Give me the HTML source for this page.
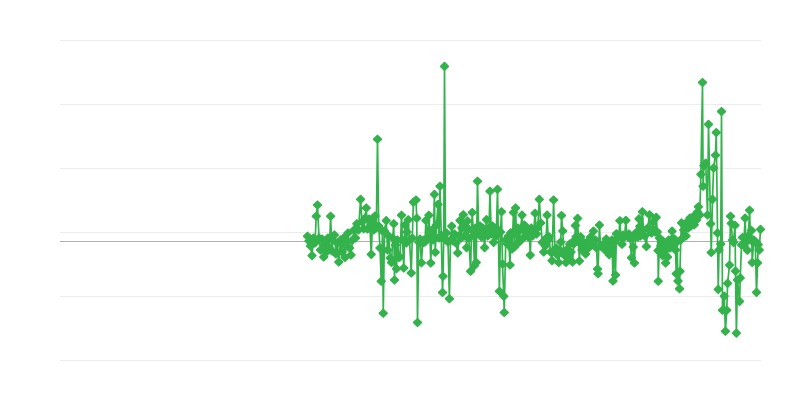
<!DOCTYPE html>
<html><head><meta charset="utf-8"><title>Chart</title>
<style>
html,body{margin:0;padding:0;background:#fff;font-family:"Liberation Sans",sans-serif;}
svg{display:block}
</style></head><body>
<svg width="800" height="400" viewBox="0 0 800 400">
<rect width="800" height="400" fill="#ffffff"/>
<g fill="none"><path d="M60 40.5H761" stroke="#ececec" stroke-width="1"/><path d="M60 104.5H761" stroke="#ececec" stroke-width="1"/><path d="M60 168.5H761" stroke="#ececec" stroke-width="1"/><path d="M60 232.5H761" stroke="#ececec" stroke-width="1"/><path d="M60 296.5H761" stroke="#ececec" stroke-width="1"/><path d="M60 360.5H761" stroke="#ececec" stroke-width="1"/>
<path d="M60 241.5H761" stroke="#b0b0b0" stroke-width="1"/></g>
<path d="M307.5 236.25 L309 241 L310.5 246 L312 255.6 L313.5 238 L315 243 L316.25 216.25 L317.5 205 L319 238 L320.5 250 L322 239 L323.75 257 L325 244 L326.5 252 L328 238 L329.5 248 L330.6 216.25 L332 251 L333 240 L334.4 235 L336 254 L337.5 243 L338.75 262 L340.5 240 L342 252 L343.5 238 L345 257.5 L346.5 243 L348 233 L349.5 248 L351 255 L352.5 240 L354 230 L355.5 238 L356.9 223.75 L358.5 230 L360.6 199.4 L362 222 L363.75 228.75 L365 218 L366.25 208 L367.5 229 L369 219 L370 228 L371.25 254.4 L372.5 222 L373.75 230 L375 216 L376.3 228 L377.5 139.25 L378.7 226 L380 248 L381.25 281.25 L382.5 231 L383.25 313.25 L384.5 231 L386.25 220.6 L387.5 250 L388.75 236 L390.25 258 L391.5 262.5 L392.75 238 L393.75 223.75 L394.5 280 L395.5 245 L396.5 268.75 L397.5 240 L398.75 257.5 L400 257 L401.5 215.25 L402.5 240 L403.75 268 L405 225 L406.25 243 L407 232 L408.25 219.75 L409.5 240 L411.25 273 L412.3 238 L413.4 202.1 L416 200 L416.75 218.25 L417.5 322.5 L418.75 242 L420 239 L421.4 262.75 L422.75 243 L424 240 L425 242 L425.9 220.5 L427.5 238 L428.9 215.25 L430 236 L430.75 263 L432 230 L433.25 240 L434.4 194.4 L435.25 252.25 L436.5 225 L438 204.4 L439 238 L440 186.25 L441.25 235 L442.5 292.5 L443 276.25 L443.75 238 L444.5 66.4 L445.5 240 L446.5 233 L448 242 L449.4 298.75 L450.5 240 L451.75 226.1 L453 241 L454.5 234 L456 243 L457.75 253 L459 236 L460 220.5 L461.25 238 L462 228 L463.25 214.75 L464.5 236 L465.5 226 L466.6 247.6 L467.5 221 L468.75 238 L470.6 271.25 L471.5 230 L472.25 212.5 L473.5 236 L474.4 265.6 L475.25 228 L476.25 262.5 L477.5 181.25 L478.75 234 L480 226 L481.5 237 L483 228 L484.6 247.6 L485.5 232 L486.5 219.6 L487.75 236 L489 228 L490 191.25 L491.25 234 L492.5 226 L493.6 242.4 L495 228 L496.25 236 L497.5 189.4 L498.25 230 L499.4 291.25 L500.5 232 L501.5 211.75 L502.5 264 L503.75 296.25 L504.25 312.5 L505.75 240 L507.25 244 L508.5 236 L510 265 L510.75 232.75 L512 249 L513.5 212.5 L514.5 247 L515.6 208 L516.75 244 L518 228 L519.25 242 L520.5 230 L522 215.1 L523.25 238 L524.4 225 L525.75 236 L527 229 L528.25 237 L529.25 231 L530.25 255.1 L531.25 228 L532.5 236 L533.75 230 L535.1 213.25 L536.5 234 L537.75 228 L539.3 199.4 L540.75 223 L542.25 242.4 L543.75 252 L545.25 246 L546.25 238 L547.1 215.1 L548.25 240 L549 236.75 L550.5 252 L552 260.6 L553.6 200 L555 252 L556.25 248 L557.5 255 L558.75 262.5 L560 250 L560.75 242 L561.5 215.5 L562.75 231 L564 255 L566 262.5 L567 249.5 L568.5 257 L569.75 244 L571 252 L572.5 262 L573.75 244 L574.75 240 L575.4 225.5 L576.1 236.75 L577.6 218.4 L578.5 242 L579.4 261 L580.6 236.75 L582 250 L583.25 242 L584.5 248 L585.6 254 L587 242 L588.5 248 L589.5 241 L590.4 237.1 L591.5 244 L593.4 231.1 L594.5 245 L595.5 240 L596.5 248 L597.5 269 L598 273.75 L599.4 225.1 L600.5 246 L602.5 246.5 L603.75 243.75 L605 250 L606.25 239 L607.5 248 L608.5 242 L609.25 254.75 L610.25 244 L611 248 L612 240 L613 281 L614.25 242 L615.5 275 L616.4 233.75 L617.5 238 L618.75 236 L619.9 220.75 L621 237 L622 244.25 L623 235 L624.5 237 L625.9 220.4 L627 236 L628 237 L629 234 L630 238 L631.5 257.75 L632.5 238 L633.25 247 L634.4 263 L635.5 237 L636.75 232 L638 237 L639 218.9 L639.75 226.4 L640.5 236 L641.5 228 L642.4 211.75 L643.5 230 L644.75 236 L646.4 246.5 L647.75 228 L649.5 214.75 L650.5 230 L651.5 233 L652.75 222 L654 230 L655 232 L656.25 217.4 L657.25 232 L658 250.6 L658.25 281.25 L659.5 238 L660.75 246 L662.5 240.6 L662.6 255.6 L663.75 242 L665 250 L665.6 263 L666.75 244 L667.5 257 L668.75 240 L670 248 L671 240 L672.1 231.1 L673.25 245 L674.5 239 L675.5 250 L676.25 273.75 L677 242 L678 281 L679.5 288.75 L680 271.25 L680.75 240 L681.5 222.9 L682.5 238 L683.75 230 L685 226 L686 236 L687 222 L688.25 228 L690 218 L691 226 L692.5 219 L694.25 224.75 L695 215 L696.5 220 L697.5 212 L698.4 206.75 L699.75 215 L700.9 174.4 L702.5 82.5 L703.1 186.25 L703.9 165.75 L705.75 163.1 L707.5 215 L708.5 124.4 L710.6 223.75 L711.25 252.5 L712.5 199.4 L713.6 168 L715.5 155.25 L716.25 132.5 L717.5 233 L718.25 289.4 L719 250 L720.75 244 L721.5 111.5 L722.5 310.25 L724.25 296.1 L725.4 331.25 L726.75 310.25 L727.6 283.4 L729.5 265.1 L730.5 216.25 L731.25 223.4 L732.5 240 L733.5 242.4 L735 225.25 L735.5 271.1 L736.4 333.1 L737.5 280 L739.6 301.4 L740.25 277.9 L741.5 245 L742.5 237.5 L743.75 245 L745.1 218.1 L746 242 L747.4 250.25 L748.25 236 L749.6 210.25 L750.5 240 L751.5 230.5 L752.25 262.5 L753.75 240 L755.25 241.25 L756.5 292.4 L757.6 262.9 L758.25 244.6 L759.25 250 L760.5 229.4" fill="none" stroke="#34b24c" stroke-width="1.7" stroke-linejoin="round" stroke-linecap="round"/>
<path d="M307.5 232.55L311.2 236.25 307.5 239.95 303.8 236.25ZM309 237.3L312.7 241 309 244.7 305.3 241ZM310.5 242.3L314.2 246 310.5 249.7 306.8 246ZM312 251.9L315.7 255.6 312 259.3 308.3 255.6ZM313.5 234.3L317.2 238 313.5 241.7 309.8 238ZM315 239.3L318.7 243 315 246.7 311.3 243ZM316.25 212.55L319.95 216.25 316.25 219.95 312.55 216.25ZM317.5 201.3L321.2 205 317.5 208.7 313.8 205ZM319 234.3L322.7 238 319 241.7 315.3 238ZM320.5 246.3L324.2 250 320.5 253.7 316.8 250ZM322 235.3L325.7 239 322 242.7 318.3 239ZM323.75 253.3L327.45 257 323.75 260.7 320.05 257ZM325 240.3L328.7 244 325 247.7 321.3 244ZM326.5 248.3L330.2 252 326.5 255.7 322.8 252ZM328 234.3L331.7 238 328 241.7 324.3 238ZM329.5 244.3L333.2 248 329.5 251.7 325.8 248ZM330.6 212.55L334.3 216.25 330.6 219.95 326.9 216.25ZM332 247.3L335.7 251 332 254.7 328.3 251ZM333 236.3L336.7 240 333 243.7 329.3 240ZM334.4 231.3L338.1 235 334.4 238.7 330.7 235ZM336 250.3L339.7 254 336 257.7 332.3 254ZM337.5 239.3L341.2 243 337.5 246.7 333.8 243ZM338.75 258.3L342.45 262 338.75 265.7 335.05 262ZM340.5 236.3L344.2 240 340.5 243.7 336.8 240ZM342 248.3L345.7 252 342 255.7 338.3 252ZM343.5 234.3L347.2 238 343.5 241.7 339.8 238ZM345 253.8L348.7 257.5 345 261.2 341.3 257.5ZM346.5 239.3L350.2 243 346.5 246.7 342.8 243ZM348 229.3L351.7 233 348 236.7 344.3 233ZM349.5 244.3L353.2 248 349.5 251.7 345.8 248ZM351 251.3L354.7 255 351 258.7 347.3 255ZM352.5 236.3L356.2 240 352.5 243.7 348.8 240ZM354 226.3L357.7 230 354 233.7 350.3 230ZM355.5 234.3L359.2 238 355.5 241.7 351.8 238ZM356.9 220.05L360.6 223.75 356.9 227.45 353.2 223.75ZM358.5 226.3L362.2 230 358.5 233.7 354.8 230ZM360.6 195.7L364.3 199.4 360.6 203.1 356.9 199.4ZM362 218.3L365.7 222 362 225.7 358.3 222ZM363.75 225.05L367.45 228.75 363.75 232.45 360.05 228.75ZM365 214.3L368.7 218 365 221.7 361.3 218ZM366.25 204.3L369.95 208 366.25 211.7 362.55 208ZM367.5 225.3L371.2 229 367.5 232.7 363.8 229ZM369 215.3L372.7 219 369 222.7 365.3 219ZM370 224.3L373.7 228 370 231.7 366.3 228ZM371.25 250.7L374.95 254.4 371.25 258.1 367.55 254.4ZM372.5 218.3L376.2 222 372.5 225.7 368.8 222ZM373.75 226.3L377.45 230 373.75 233.7 370.05 230ZM375 212.3L378.7 216 375 219.7 371.3 216ZM376.3 224.3L380 228 376.3 231.7 372.6 228ZM377.5 135.55L381.2 139.25 377.5 142.95 373.8 139.25ZM378.7 222.3L382.4 226 378.7 229.7 375 226ZM380 244.3L383.7 248 380 251.7 376.3 248ZM381.25 277.55L384.95 281.25 381.25 284.95 377.55 281.25ZM382.5 227.3L386.2 231 382.5 234.7 378.8 231ZM383.25 309.55L386.95 313.25 383.25 316.95 379.55 313.25ZM384.5 227.3L388.2 231 384.5 234.7 380.8 231ZM386.25 216.9L389.95 220.6 386.25 224.3 382.55 220.6ZM387.5 246.3L391.2 250 387.5 253.7 383.8 250ZM388.75 232.3L392.45 236 388.75 239.7 385.05 236ZM390.25 254.3L393.95 258 390.25 261.7 386.55 258ZM391.5 258.8L395.2 262.5 391.5 266.2 387.8 262.5ZM392.75 234.3L396.45 238 392.75 241.7 389.05 238ZM393.75 220.05L397.45 223.75 393.75 227.45 390.05 223.75ZM394.5 276.3L398.2 280 394.5 283.7 390.8 280ZM395.5 241.3L399.2 245 395.5 248.7 391.8 245ZM396.5 265.05L400.2 268.75 396.5 272.45 392.8 268.75ZM397.5 236.3L401.2 240 397.5 243.7 393.8 240ZM398.75 253.8L402.45 257.5 398.75 261.2 395.05 257.5ZM400 253.3L403.7 257 400 260.7 396.3 257ZM401.5 211.55L405.2 215.25 401.5 218.95 397.8 215.25ZM402.5 236.3L406.2 240 402.5 243.7 398.8 240ZM403.75 264.3L407.45 268 403.75 271.7 400.05 268ZM405 221.3L408.7 225 405 228.7 401.3 225ZM406.25 239.3L409.95 243 406.25 246.7 402.55 243ZM407 228.3L410.7 232 407 235.7 403.3 232ZM408.25 216.05L411.95 219.75 408.25 223.45 404.55 219.75ZM409.5 236.3L413.2 240 409.5 243.7 405.8 240ZM411.25 269.3L414.95 273 411.25 276.7 407.55 273ZM412.3 234.3L416 238 412.3 241.7 408.6 238ZM413.4 198.4L417.1 202.1 413.4 205.8 409.7 202.1ZM416 196.3L419.7 200 416 203.7 412.3 200ZM416.75 214.55L420.45 218.25 416.75 221.95 413.05 218.25ZM417.5 318.8L421.2 322.5 417.5 326.2 413.8 322.5ZM418.75 238.3L422.45 242 418.75 245.7 415.05 242ZM420 235.3L423.7 239 420 242.7 416.3 239ZM421.4 259.05L425.1 262.75 421.4 266.45 417.7 262.75ZM422.75 239.3L426.45 243 422.75 246.7 419.05 243ZM424 236.3L427.7 240 424 243.7 420.3 240ZM425 238.3L428.7 242 425 245.7 421.3 242ZM425.9 216.8L429.6 220.5 425.9 224.2 422.2 220.5ZM427.5 234.3L431.2 238 427.5 241.7 423.8 238ZM428.9 211.55L432.6 215.25 428.9 218.95 425.2 215.25ZM430 232.3L433.7 236 430 239.7 426.3 236ZM430.75 259.3L434.45 263 430.75 266.7 427.05 263ZM432 226.3L435.7 230 432 233.7 428.3 230ZM433.25 236.3L436.95 240 433.25 243.7 429.55 240ZM434.4 190.7L438.1 194.4 434.4 198.1 430.7 194.4ZM435.25 248.55L438.95 252.25 435.25 255.95 431.55 252.25ZM436.5 221.3L440.2 225 436.5 228.7 432.8 225ZM438 200.7L441.7 204.4 438 208.1 434.3 204.4ZM439 234.3L442.7 238 439 241.7 435.3 238ZM440 182.55L443.7 186.25 440 189.95 436.3 186.25ZM441.25 231.3L444.95 235 441.25 238.7 437.55 235ZM442.5 288.8L446.2 292.5 442.5 296.2 438.8 292.5ZM443 272.55L446.7 276.25 443 279.95 439.3 276.25ZM443.75 234.3L447.45 238 443.75 241.7 440.05 238ZM444.5 62.7L448.2 66.4 444.5 70.1 440.8 66.4ZM445.5 236.3L449.2 240 445.5 243.7 441.8 240ZM446.5 229.3L450.2 233 446.5 236.7 442.8 233ZM448 238.3L451.7 242 448 245.7 444.3 242ZM449.4 295.05L453.1 298.75 449.4 302.45 445.7 298.75ZM450.5 236.3L454.2 240 450.5 243.7 446.8 240ZM451.75 222.4L455.45 226.1 451.75 229.8 448.05 226.1ZM453 237.3L456.7 241 453 244.7 449.3 241ZM454.5 230.3L458.2 234 454.5 237.7 450.8 234ZM456 239.3L459.7 243 456 246.7 452.3 243ZM457.75 249.3L461.45 253 457.75 256.7 454.05 253ZM459 232.3L462.7 236 459 239.7 455.3 236ZM460 216.8L463.7 220.5 460 224.2 456.3 220.5ZM461.25 234.3L464.95 238 461.25 241.7 457.55 238ZM462 224.3L465.7 228 462 231.7 458.3 228ZM463.25 211.05L466.95 214.75 463.25 218.45 459.55 214.75ZM464.5 232.3L468.2 236 464.5 239.7 460.8 236ZM465.5 222.3L469.2 226 465.5 229.7 461.8 226ZM466.6 243.9L470.3 247.6 466.6 251.3 462.9 247.6ZM467.5 217.3L471.2 221 467.5 224.7 463.8 221ZM468.75 234.3L472.45 238 468.75 241.7 465.05 238ZM470.6 267.55L474.3 271.25 470.6 274.95 466.9 271.25ZM471.5 226.3L475.2 230 471.5 233.7 467.8 230ZM472.25 208.8L475.95 212.5 472.25 216.2 468.55 212.5ZM473.5 232.3L477.2 236 473.5 239.7 469.8 236ZM474.4 261.9L478.1 265.6 474.4 269.3 470.7 265.6ZM475.25 224.3L478.95 228 475.25 231.7 471.55 228ZM476.25 258.8L479.95 262.5 476.25 266.2 472.55 262.5ZM477.5 177.55L481.2 181.25 477.5 184.95 473.8 181.25ZM478.75 230.3L482.45 234 478.75 237.7 475.05 234ZM480 222.3L483.7 226 480 229.7 476.3 226ZM481.5 233.3L485.2 237 481.5 240.7 477.8 237ZM483 224.3L486.7 228 483 231.7 479.3 228ZM484.6 243.9L488.3 247.6 484.6 251.3 480.9 247.6ZM485.5 228.3L489.2 232 485.5 235.7 481.8 232ZM486.5 215.9L490.2 219.6 486.5 223.3 482.8 219.6ZM487.75 232.3L491.45 236 487.75 239.7 484.05 236ZM489 224.3L492.7 228 489 231.7 485.3 228ZM490 187.55L493.7 191.25 490 194.95 486.3 191.25ZM491.25 230.3L494.95 234 491.25 237.7 487.55 234ZM492.5 222.3L496.2 226 492.5 229.7 488.8 226ZM493.6 238.7L497.3 242.4 493.6 246.1 489.9 242.4ZM495 224.3L498.7 228 495 231.7 491.3 228ZM496.25 232.3L499.95 236 496.25 239.7 492.55 236ZM497.5 185.7L501.2 189.4 497.5 193.1 493.8 189.4ZM498.25 226.3L501.95 230 498.25 233.7 494.55 230ZM499.4 287.55L503.1 291.25 499.4 294.95 495.7 291.25ZM500.5 228.3L504.2 232 500.5 235.7 496.8 232ZM501.5 208.05L505.2 211.75 501.5 215.45 497.8 211.75ZM502.5 260.3L506.2 264 502.5 267.7 498.8 264ZM503.75 292.55L507.45 296.25 503.75 299.95 500.05 296.25ZM504.25 308.8L507.95 312.5 504.25 316.2 500.55 312.5ZM505.75 236.3L509.45 240 505.75 243.7 502.05 240ZM507.25 240.3L510.95 244 507.25 247.7 503.55 244ZM508.5 232.3L512.2 236 508.5 239.7 504.8 236ZM510 261.3L513.7 265 510 268.7 506.3 265ZM510.75 229.05L514.45 232.75 510.75 236.45 507.05 232.75ZM512 245.3L515.7 249 512 252.7 508.3 249ZM513.5 208.8L517.2 212.5 513.5 216.2 509.8 212.5ZM514.5 243.3L518.2 247 514.5 250.7 510.8 247ZM515.6 204.3L519.3 208 515.6 211.7 511.9 208ZM516.75 240.3L520.45 244 516.75 247.7 513.05 244ZM518 224.3L521.7 228 518 231.7 514.3 228ZM519.25 238.3L522.95 242 519.25 245.7 515.55 242ZM520.5 226.3L524.2 230 520.5 233.7 516.8 230ZM522 211.4L525.7 215.1 522 218.8 518.3 215.1ZM523.25 234.3L526.95 238 523.25 241.7 519.55 238ZM524.4 221.3L528.1 225 524.4 228.7 520.7 225ZM525.75 232.3L529.45 236 525.75 239.7 522.05 236ZM527 225.3L530.7 229 527 232.7 523.3 229ZM528.25 233.3L531.95 237 528.25 240.7 524.55 237ZM529.25 227.3L532.95 231 529.25 234.7 525.55 231ZM530.25 251.4L533.95 255.1 530.25 258.8 526.55 255.1ZM531.25 224.3L534.95 228 531.25 231.7 527.55 228ZM532.5 232.3L536.2 236 532.5 239.7 528.8 236ZM533.75 226.3L537.45 230 533.75 233.7 530.05 230ZM535.1 209.55L538.8 213.25 535.1 216.95 531.4 213.25ZM536.5 230.3L540.2 234 536.5 237.7 532.8 234ZM537.75 224.3L541.45 228 537.75 231.7 534.05 228ZM539.3 195.7L543 199.4 539.3 203.1 535.6 199.4ZM540.75 219.3L544.45 223 540.75 226.7 537.05 223ZM542.25 238.7L545.95 242.4 542.25 246.1 538.55 242.4ZM543.75 248.3L547.45 252 543.75 255.7 540.05 252ZM545.25 242.3L548.95 246 545.25 249.7 541.55 246ZM546.25 234.3L549.95 238 546.25 241.7 542.55 238ZM547.1 211.4L550.8 215.1 547.1 218.8 543.4 215.1ZM548.25 236.3L551.95 240 548.25 243.7 544.55 240ZM549 233.05L552.7 236.75 549 240.45 545.3 236.75ZM550.5 248.3L554.2 252 550.5 255.7 546.8 252ZM552 256.9L555.7 260.6 552 264.3 548.3 260.6ZM553.6 196.3L557.3 200 553.6 203.7 549.9 200ZM555 248.3L558.7 252 555 255.7 551.3 252ZM556.25 244.3L559.95 248 556.25 251.7 552.55 248ZM557.5 251.3L561.2 255 557.5 258.7 553.8 255ZM558.75 258.8L562.45 262.5 558.75 266.2 555.05 262.5ZM560 246.3L563.7 250 560 253.7 556.3 250ZM560.75 238.3L564.45 242 560.75 245.7 557.05 242ZM561.5 211.8L565.2 215.5 561.5 219.2 557.8 215.5ZM562.75 227.3L566.45 231 562.75 234.7 559.05 231ZM564 251.3L567.7 255 564 258.7 560.3 255ZM566 258.8L569.7 262.5 566 266.2 562.3 262.5ZM567 245.8L570.7 249.5 567 253.2 563.3 249.5ZM568.5 253.3L572.2 257 568.5 260.7 564.8 257ZM569.75 240.3L573.45 244 569.75 247.7 566.05 244ZM571 248.3L574.7 252 571 255.7 567.3 252ZM572.5 258.3L576.2 262 572.5 265.7 568.8 262ZM573.75 240.3L577.45 244 573.75 247.7 570.05 244ZM574.75 236.3L578.45 240 574.75 243.7 571.05 240ZM575.4 221.8L579.1 225.5 575.4 229.2 571.7 225.5ZM576.1 233.05L579.8 236.75 576.1 240.45 572.4 236.75ZM577.6 214.7L581.3 218.4 577.6 222.1 573.9 218.4ZM578.5 238.3L582.2 242 578.5 245.7 574.8 242ZM579.4 257.3L583.1 261 579.4 264.7 575.7 261ZM580.6 233.05L584.3 236.75 580.6 240.45 576.9 236.75ZM582 246.3L585.7 250 582 253.7 578.3 250ZM583.25 238.3L586.95 242 583.25 245.7 579.55 242ZM584.5 244.3L588.2 248 584.5 251.7 580.8 248ZM585.6 250.3L589.3 254 585.6 257.7 581.9 254ZM587 238.3L590.7 242 587 245.7 583.3 242ZM588.5 244.3L592.2 248 588.5 251.7 584.8 248ZM589.5 237.3L593.2 241 589.5 244.7 585.8 241ZM590.4 233.4L594.1 237.1 590.4 240.8 586.7 237.1ZM591.5 240.3L595.2 244 591.5 247.7 587.8 244ZM593.4 227.4L597.1 231.1 593.4 234.8 589.7 231.1ZM594.5 241.3L598.2 245 594.5 248.7 590.8 245ZM595.5 236.3L599.2 240 595.5 243.7 591.8 240ZM596.5 244.3L600.2 248 596.5 251.7 592.8 248ZM597.5 265.3L601.2 269 597.5 272.7 593.8 269ZM598 270.05L601.7 273.75 598 277.45 594.3 273.75ZM599.4 221.4L603.1 225.1 599.4 228.8 595.7 225.1ZM600.5 242.3L604.2 246 600.5 249.7 596.8 246ZM602.5 242.8L606.2 246.5 602.5 250.2 598.8 246.5ZM603.75 240.05L607.45 243.75 603.75 247.45 600.05 243.75ZM605 246.3L608.7 250 605 253.7 601.3 250ZM606.25 235.3L609.95 239 606.25 242.7 602.55 239ZM607.5 244.3L611.2 248 607.5 251.7 603.8 248ZM608.5 238.3L612.2 242 608.5 245.7 604.8 242ZM609.25 251.05L612.95 254.75 609.25 258.45 605.55 254.75ZM610.25 240.3L613.95 244 610.25 247.7 606.55 244ZM611 244.3L614.7 248 611 251.7 607.3 248ZM612 236.3L615.7 240 612 243.7 608.3 240ZM613 277.3L616.7 281 613 284.7 609.3 281ZM614.25 238.3L617.95 242 614.25 245.7 610.55 242ZM615.5 271.3L619.2 275 615.5 278.7 611.8 275ZM616.4 230.05L620.1 233.75 616.4 237.45 612.7 233.75ZM617.5 234.3L621.2 238 617.5 241.7 613.8 238ZM618.75 232.3L622.45 236 618.75 239.7 615.05 236ZM619.9 217.05L623.6 220.75 619.9 224.45 616.2 220.75ZM621 233.3L624.7 237 621 240.7 617.3 237ZM622 240.55L625.7 244.25 622 247.95 618.3 244.25ZM623 231.3L626.7 235 623 238.7 619.3 235ZM624.5 233.3L628.2 237 624.5 240.7 620.8 237ZM625.9 216.7L629.6 220.4 625.9 224.1 622.2 220.4ZM627 232.3L630.7 236 627 239.7 623.3 236ZM628 233.3L631.7 237 628 240.7 624.3 237ZM629 230.3L632.7 234 629 237.7 625.3 234ZM630 234.3L633.7 238 630 241.7 626.3 238ZM631.5 254.05L635.2 257.75 631.5 261.45 627.8 257.75ZM632.5 234.3L636.2 238 632.5 241.7 628.8 238ZM633.25 243.3L636.95 247 633.25 250.7 629.55 247ZM634.4 259.3L638.1 263 634.4 266.7 630.7 263ZM635.5 233.3L639.2 237 635.5 240.7 631.8 237ZM636.75 228.3L640.45 232 636.75 235.7 633.05 232ZM638 233.3L641.7 237 638 240.7 634.3 237ZM639 215.2L642.7 218.9 639 222.6 635.3 218.9ZM639.75 222.7L643.45 226.4 639.75 230.1 636.05 226.4ZM640.5 232.3L644.2 236 640.5 239.7 636.8 236ZM641.5 224.3L645.2 228 641.5 231.7 637.8 228ZM642.4 208.05L646.1 211.75 642.4 215.45 638.7 211.75ZM643.5 226.3L647.2 230 643.5 233.7 639.8 230ZM644.75 232.3L648.45 236 644.75 239.7 641.05 236ZM646.4 242.8L650.1 246.5 646.4 250.2 642.7 246.5ZM647.75 224.3L651.45 228 647.75 231.7 644.05 228ZM649.5 211.05L653.2 214.75 649.5 218.45 645.8 214.75ZM650.5 226.3L654.2 230 650.5 233.7 646.8 230ZM651.5 229.3L655.2 233 651.5 236.7 647.8 233ZM652.75 218.3L656.45 222 652.75 225.7 649.05 222ZM654 226.3L657.7 230 654 233.7 650.3 230ZM655 228.3L658.7 232 655 235.7 651.3 232ZM656.25 213.7L659.95 217.4 656.25 221.1 652.55 217.4ZM657.25 228.3L660.95 232 657.25 235.7 653.55 232ZM658 246.9L661.7 250.6 658 254.3 654.3 250.6ZM658.25 277.55L661.95 281.25 658.25 284.95 654.55 281.25ZM659.5 234.3L663.2 238 659.5 241.7 655.8 238ZM660.75 242.3L664.45 246 660.75 249.7 657.05 246ZM662.5 236.9L666.2 240.6 662.5 244.3 658.8 240.6ZM662.6 251.9L666.3 255.6 662.6 259.3 658.9 255.6ZM663.75 238.3L667.45 242 663.75 245.7 660.05 242ZM665 246.3L668.7 250 665 253.7 661.3 250ZM665.6 259.3L669.3 263 665.6 266.7 661.9 263ZM666.75 240.3L670.45 244 666.75 247.7 663.05 244ZM667.5 253.3L671.2 257 667.5 260.7 663.8 257ZM668.75 236.3L672.45 240 668.75 243.7 665.05 240ZM670 244.3L673.7 248 670 251.7 666.3 248ZM671 236.3L674.7 240 671 243.7 667.3 240ZM672.1 227.4L675.8 231.1 672.1 234.8 668.4 231.1ZM673.25 241.3L676.95 245 673.25 248.7 669.55 245ZM674.5 235.3L678.2 239 674.5 242.7 670.8 239ZM675.5 246.3L679.2 250 675.5 253.7 671.8 250ZM676.25 270.05L679.95 273.75 676.25 277.45 672.55 273.75ZM677 238.3L680.7 242 677 245.7 673.3 242ZM678 277.3L681.7 281 678 284.7 674.3 281ZM679.5 285.05L683.2 288.75 679.5 292.45 675.8 288.75ZM680 267.55L683.7 271.25 680 274.95 676.3 271.25ZM680.75 236.3L684.45 240 680.75 243.7 677.05 240ZM681.5 219.2L685.2 222.9 681.5 226.6 677.8 222.9ZM682.5 234.3L686.2 238 682.5 241.7 678.8 238ZM683.75 226.3L687.45 230 683.75 233.7 680.05 230ZM685 222.3L688.7 226 685 229.7 681.3 226ZM686 232.3L689.7 236 686 239.7 682.3 236ZM687 218.3L690.7 222 687 225.7 683.3 222ZM688.25 224.3L691.95 228 688.25 231.7 684.55 228ZM690 214.3L693.7 218 690 221.7 686.3 218ZM691 222.3L694.7 226 691 229.7 687.3 226ZM692.5 215.3L696.2 219 692.5 222.7 688.8 219ZM694.25 221.05L697.95 224.75 694.25 228.45 690.55 224.75ZM695 211.3L698.7 215 695 218.7 691.3 215ZM696.5 216.3L700.2 220 696.5 223.7 692.8 220ZM697.5 208.3L701.2 212 697.5 215.7 693.8 212ZM698.4 203.05L702.1 206.75 698.4 210.45 694.7 206.75ZM699.75 211.3L703.45 215 699.75 218.7 696.05 215ZM700.9 170.7L704.6 174.4 700.9 178.1 697.2 174.4ZM702.5 78.8L706.2 82.5 702.5 86.2 698.8 82.5ZM703.1 182.55L706.8 186.25 703.1 189.95 699.4 186.25ZM703.9 162.05L707.6 165.75 703.9 169.45 700.2 165.75ZM705.75 159.4L709.45 163.1 705.75 166.8 702.05 163.1ZM707.5 211.3L711.2 215 707.5 218.7 703.8 215ZM708.5 120.7L712.2 124.4 708.5 128.1 704.8 124.4ZM710.6 220.05L714.3 223.75 710.6 227.45 706.9 223.75ZM711.25 248.8L714.95 252.5 711.25 256.2 707.55 252.5ZM712.5 195.7L716.2 199.4 712.5 203.1 708.8 199.4ZM713.6 164.3L717.3 168 713.6 171.7 709.9 168ZM715.5 151.55L719.2 155.25 715.5 158.95 711.8 155.25ZM716.25 128.8L719.95 132.5 716.25 136.2 712.55 132.5ZM717.5 229.3L721.2 233 717.5 236.7 713.8 233ZM718.25 285.7L721.95 289.4 718.25 293.1 714.55 289.4ZM719 246.3L722.7 250 719 253.7 715.3 250ZM720.75 240.3L724.45 244 720.75 247.7 717.05 244ZM721.5 107.8L725.2 111.5 721.5 115.2 717.8 111.5ZM722.5 306.55L726.2 310.25 722.5 313.95 718.8 310.25ZM724.25 292.4L727.95 296.1 724.25 299.8 720.55 296.1ZM725.4 327.55L729.1 331.25 725.4 334.95 721.7 331.25ZM726.75 306.55L730.45 310.25 726.75 313.95 723.05 310.25ZM727.6 279.7L731.3 283.4 727.6 287.1 723.9 283.4ZM729.5 261.4L733.2 265.1 729.5 268.8 725.8 265.1ZM730.5 212.55L734.2 216.25 730.5 219.95 726.8 216.25ZM731.25 219.7L734.95 223.4 731.25 227.1 727.55 223.4ZM732.5 236.3L736.2 240 732.5 243.7 728.8 240ZM733.5 238.7L737.2 242.4 733.5 246.1 729.8 242.4ZM735 221.55L738.7 225.25 735 228.95 731.3 225.25ZM735.5 267.4L739.2 271.1 735.5 274.8 731.8 271.1ZM736.4 329.4L740.1 333.1 736.4 336.8 732.7 333.1ZM737.5 276.3L741.2 280 737.5 283.7 733.8 280ZM739.6 297.7L743.3 301.4 739.6 305.1 735.9 301.4ZM740.25 274.2L743.95 277.9 740.25 281.6 736.55 277.9ZM741.5 241.3L745.2 245 741.5 248.7 737.8 245ZM742.5 233.8L746.2 237.5 742.5 241.2 738.8 237.5ZM743.75 241.3L747.45 245 743.75 248.7 740.05 245ZM745.1 214.4L748.8 218.1 745.1 221.8 741.4 218.1ZM746 238.3L749.7 242 746 245.7 742.3 242ZM747.4 246.55L751.1 250.25 747.4 253.95 743.7 250.25ZM748.25 232.3L751.95 236 748.25 239.7 744.55 236ZM749.6 206.55L753.3 210.25 749.6 213.95 745.9 210.25ZM750.5 236.3L754.2 240 750.5 243.7 746.8 240ZM751.5 226.8L755.2 230.5 751.5 234.2 747.8 230.5ZM752.25 258.8L755.95 262.5 752.25 266.2 748.55 262.5ZM753.75 236.3L757.45 240 753.75 243.7 750.05 240ZM755.25 237.55L758.95 241.25 755.25 244.95 751.55 241.25ZM756.5 288.7L760.2 292.4 756.5 296.1 752.8 292.4ZM757.6 259.2L761.3 262.9 757.6 266.6 753.9 262.9ZM758.25 240.9L761.95 244.6 758.25 248.3 754.55 244.6ZM759.25 246.3L762.95 250 759.25 253.7 755.55 250ZM760.5 225.7L764.2 229.4 760.5 233.1 756.8 229.4Z" fill="#34b24c" stroke="#34b24c" stroke-width="1.8" stroke-linejoin="round"/>
</svg>
</body></html>
